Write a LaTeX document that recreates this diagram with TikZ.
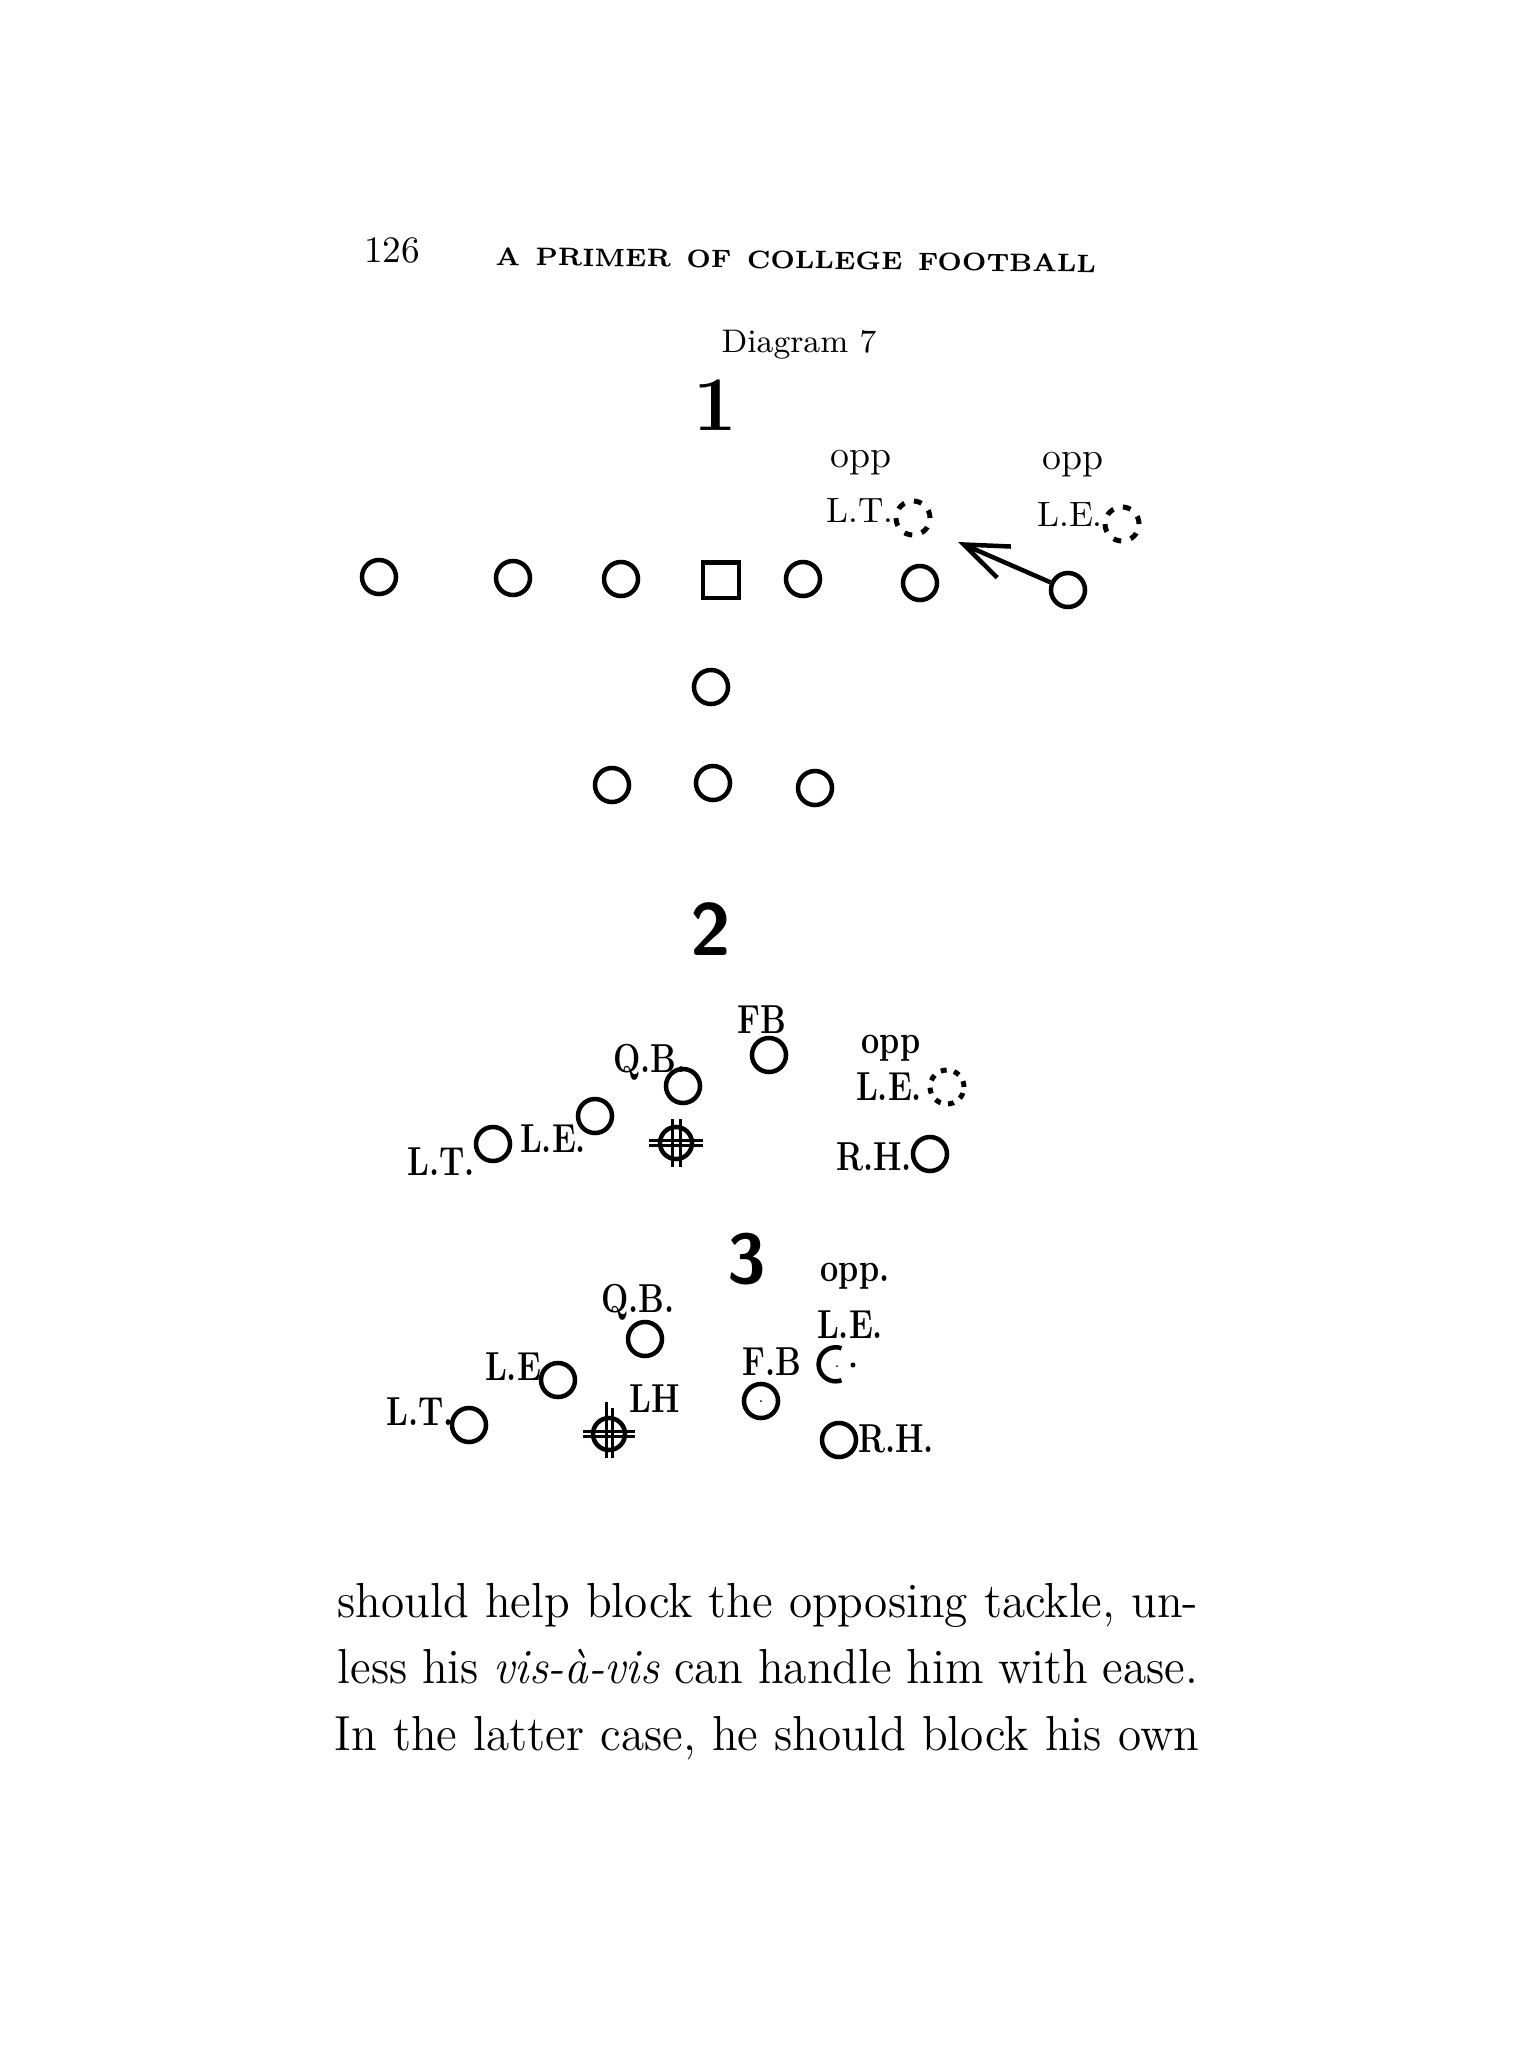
\documentclass[tikz,border=0pt]{standalone}
\usepackage{fontspec}
\usetikzlibrary{arrows.meta}
\tikzset{
  man/.style={circle, draw, line width=0.045cm, inner sep=0pt, minimum size=0.34cm},
  ctr/.style={rectangle, draw, line width=0.045cm, inner sep=0pt, minimum size=0.355cm},
  oppm/.style={circle, draw, line width=0.05cm, inner sep=0pt, minimum size=0.34cm, dash pattern=on 0.08cm off 0.098cm},
  lbla/.style={inner sep=0pt, anchor=base, font=\fontsize{10}{10}\selectfont},
  lblb/.style={inner sep=0pt, anchor=base, xscale=0.8, font=\fontsize{11.5}{12}\selectfont\bfseries},
  num/.style={inner sep=0pt, anchor=center},
  body/.style={inner sep=0pt, anchor=base west, xscale=0.96, font=\fontsize{14}{16}\selectfont},
  hash/.style={line width=0.03cm},
  dot/.style={fill, circle, inner sep=0pt, minimum size=0.035cm}
}
\begin{document}
\begin{tikzpicture}[x=0.01cm, y=-0.01cm]
\useasboundingbox (0,0) rectangle (1528,2069);
% header
\node[inner sep=0pt, anchor=base] (pg) at (392,262) {\fontsize{10.6}{11}\selectfont 126};
\node[inner sep=0pt, anchor=base west, rotate=-0.7] (hd) at (495,265)
  {\makebox[6.0cm][s]{\fontsize{7.2}{8}\selectfont\bfseries\addfontfeature{LetterSpace=9}A PRIMER OF COLLEGE FOOTBALL}};
\node[inner sep=0pt, anchor=base] (dg) at (799,352) {\fontsize{9.3}{10}\selectfont Diagram 7};
% diagram 1
\node[num] (n1) at (715,405) {\fontsize{22}{22}\selectfont\bfseries 1};
\node[man] (a1) at (379,577) {};
\node[man] (a2) at (513,578) {};
\node[man] (a3) at (621,579) {};
\node[ctr] (a4) at (721,580) {};
\node[man] (a5) at (803,579) {};
\node[man] (a6) at (920,583) {};
\node[man] (a7) at (1068,590) {};
\node[man] (b1) at (711,687) {};
\node[man] (b2) at (612,785) {};
\node[man] (b3) at (713,783) {};
\node[man] (b4) at (815,788) {};
\node[oppm] (o1) at (913,518) {};
\node[oppm] (o2) at (1122,524) {};
\node[lbla, font=\fontsize{11}{11}\selectfont] (l1a) at (861,467) {opp};
\node[lbla] (l1b) at (860,522) {L.T.};
\node[lbla, font=\fontsize{11}{11}\selectfont] (l2a) at (1073,469) {opp};
\node[lbla] (l2b) at (1070,526) {L.E.};
\coordinate (tip) at (958,542);
\draw[line width=0.045cm, -{Straight Barb[length=0.44cm,width=0.34cm,line width=0.045cm]}] (a7) -- (tip);
% diagram 2
\node[num] (n2) at (711,929) {\fontsize{21}{21}\selectfont\sffamily\bfseries 2};
\node[lblb] (f2) at (762,1033) {FB};
\node[man] (c1) at (769,1055) {};
\node[lblb] (q2) at (650,1072) {Q.B.};
\node[man] (c2) at (683,1086) {};
\node[lblb] (e2) at (553,1152) {L.E.};
\node[man] (c3) at (595,1116) {};
\node[lblb] (t2) at (441,1175) {L.T.};
\node[man] (c4) at (493,1144) {};
\node[man, minimum size=0.32cm] (c5) at (676,1143) {};
\draw[hash] ([xshift=-0.04cm]c5.center) ++(0,-24) -- ++(0,48);
\draw[hash] ([xshift=0.04cm]c5.center) ++(0,-24) -- ++(0,48);
\draw[hash] ([yshift=0.025cm]c5.center) ++(-27,0) -- ++(54,0);
\draw[hash] ([yshift=-0.025cm]c5.center) ++(-27,0) -- ++(54,0);
\node[lblb] (p2) at (891,1053) {opp};
\node[lblb] (g2) at (889,1100) {L.E.};
\node[oppm, dash pattern=on 0.06cm off 0.075cm] (o3) at (947,1087) {};
\node[lblb] (r2) at (874,1170) {R.H.};
\node[man] (c6) at (930,1154) {};
% diagram 3
\node[num] (n3) at (747,1259) {\fontsize{20}{20}\selectfont\sffamily\bfseries 3};
\node[lblb] (p3) at (855,1281) {opp.};
\node[lblb] (g3) at (850,1338) {L.E.};
\node[inner sep=0pt, minimum size=0.34cm] (o4) at (835,1366) {};
\draw[line width=0.045cm] (o4.70) arc[start angle=70, end angle=290, radius=0.17cm];
\node[dot, minimum size=0.05cm] (o4d) at (853,1365) {};
\node[dot, minimum size=0.02cm] (o4c) at (837,1366) {};
\node[lblb] (f3) at (772,1375) {F.B};
\node[man] (d1) at (761,1401) {};
\node[dot, minimum size=0.02cm] (d1c) at (761,1401) {};
\node[lblb] (q3) at (638,1312) {Q.B.};
\node[man] (d2) at (645,1339) {};
\node[lblb] (e3) at (513,1380) {L.E};
\node[man] (d3) at (558,1380) {};
\node[lblb] (t3) at (420,1425) {L.T.};
\node[man] (d4) at (469,1425) {};
\node[man, minimum size=0.32cm] (d5) at (609,1434) {};
\draw[hash] ([xshift=-0.03cm]d5.center) ++(0,-32) -- ++(0,56);
\draw[hash] ([xshift=0.03cm]d5.center) ++(0,-26) -- ++(0,50);
\draw[hash] ([yshift=0.03cm]d5.center) ++(-26,0) -- ++(52,0);
\draw[hash] ([yshift=-0.02cm]d5.center) ++(-26,0) -- ++(52,0);
\node[lblb] (h3) at (655,1412) {LH};
\node[man] (d6) at (839,1440) {};
\node[lblb] (r3) at (896,1452) {R.H.};
% body
\node[body] (t1) at (337,1617) {\makebox[8.96cm][s]{should help block the opposing tackle, un-}};
\node[body] (t2b) at (337,1683) {\makebox[8.96cm][s]{less his \textit{vis-à-vis} can handle him with ease.}};
\node[body] (t3b) at (334,1750) {\makebox[9.0cm][s]{In the latter case, he should block his own}};
\end{tikzpicture}
\end{document}
